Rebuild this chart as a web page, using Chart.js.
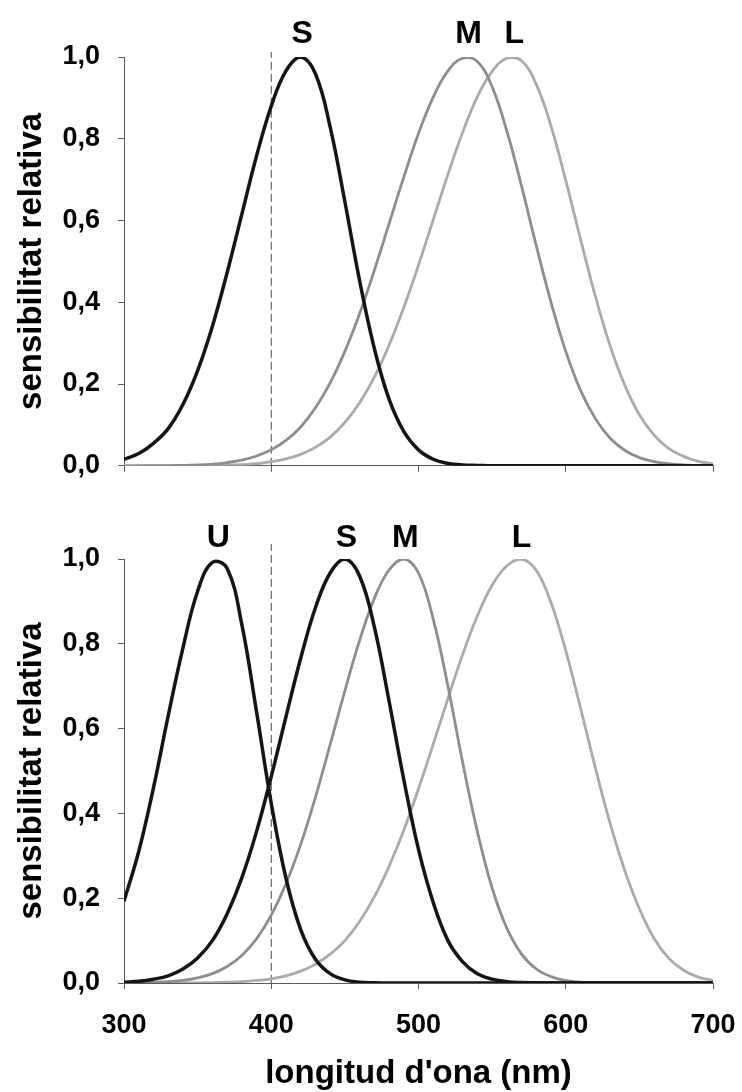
<!DOCTYPE html>
<html>
<head>
<meta charset="utf-8">
<script src="https://cdn.jsdelivr.net/npm/chart.js@4.4.1/dist/chart.umd.min.js"></script>
<style>
  html, body { margin: 0; padding: 0; background: #fff; }
  #wrap { position: relative; width: 742px; height: 1092px; }
  canvas { position: absolute; left: 0; }
  #top { top: 0; }
  #bottom { top: 500px; }
</style>
</head>
<body>
<div id="wrap">
  <canvas id="top" width="742" height="500"></canvas>
  <canvas id="bottom" width="742" height="592"></canvas>
</div>
<script>
const wavelengths = [
  300, 310, 320, 330, 340, 350, 360, 370, 380, 390,
  400, 410, 420, 430, 440, 450, 460, 470, 480, 490,
  500, 510, 520, 530, 540, 550, 560, 570, 580, 590,
  600, 610, 620, 630, 640, 650, 660, 670, 680, 690,
  700
];

// upper panel: S, M, L cones
const topS = [
  0.016, 0.03, 0.055, 0.091, 0.15, 0.233, 0.341, 0.472, 0.615, 0.758,
  0.88, 0.966, 1.00, 0.959, 0.829, 0.646, 0.453, 0.287, 0.163, 0.084,
  0.039, 0.016, 0.006, 0.002, 0.001, 0, 0, 0, 0, 0,
  0, 0, 0, 0, 0, 0, 0, 0, 0, 0,
  0
];
const topM = [
  0, 0, 0.0003, 0.0005, 0.001, 0.002, 0.004, 0.008, 0.014, 0.024,
  0.039, 0.062, 0.095, 0.142, 0.203, 0.28, 0.372, 0.478, 0.592, 0.706,
  0.813, 0.902, 0.966, 0.997, 0.989, 0.927, 0.819, 0.684, 0.538, 0.40,
  0.28, 0.185, 0.116, 0.068, 0.038, 0.02, 0.01, 0.005, 0.002, 0.001,
  0
];
const topL = [
  0, 0, 0, 0, 0.0002, 0.0004, 0.0008, 0.0015, 0.003, 0.005,
  0.01, 0.017, 0.028, 0.045, 0.07, 0.106, 0.154, 0.217, 0.295, 0.387,
  0.491, 0.602, 0.713, 0.816, 0.903, 0.965, 0.997, 0.991, 0.933, 0.831,
  0.698, 0.555, 0.416, 0.295, 0.198, 0.125, 0.075, 0.042, 0.023, 0.011,
  0.005
];
const topNames = ['S', 'M', 'L'];
const topPeaks = [421, 534, 565];

// lower panel: U, S, M, L cones
const botU = [
  0.193, 0.31, 0.46, 0.63, 0.79, 0.924, 0.992, 0.978, 0.846, 0.64,
  0.424, 0.247, 0.126, 0.056, 0.022, 0.0075, 0.002, 0.0006, 0, 0,
  0, 0, 0, 0, 0, 0, 0, 0, 0, 0,
  0, 0, 0, 0, 0, 0, 0, 0, 0, 0,
  0
];
const botS = [
  0.002, 0.004, 0.009, 0.017, 0.033, 0.059, 0.10, 0.163, 0.248, 0.357,
  0.487, 0.628, 0.766, 0.885, 0.967, 1.00, 0.96, 0.84, 0.665, 0.48,
  0.315, 0.19, 0.10, 0.05, 0.022, 0.009, 0.003, 0.001, 0, 0,
  0, 0, 0, 0, 0, 0, 0, 0, 0, 0,
  0
];
const botM = [
  0, 0.001, 0.0015, 0.003, 0.006, 0.012, 0.022, 0.039, 0.065, 0.104,
  0.16, 0.234, 0.327, 0.438, 0.562, 0.689, 0.808, 0.907, 0.974, 1.00,
  0.967, 0.858, 0.70, 0.52, 0.357, 0.224, 0.129, 0.068, 0.033, 0.015,
  0.006, 0.002, 0.001, 0, 0, 0, 0, 0, 0, 0,
  0
];
const botL = [
  0, 0, 0, 0, 0, 0.0004, 0.001, 0.002, 0.003, 0.006,
  0.010, 0.017, 0.028, 0.044, 0.068, 0.10, 0.145, 0.203, 0.275, 0.36,
  0.458, 0.563, 0.671, 0.775, 0.866, 0.938, 0.984, 1.00, 0.973, 0.897,
  0.784, 0.649, 0.509, 0.378, 0.266, 0.175, 0.105, 0.058, 0.03, 0.014,
  0.006
];
const botNames = ['U', 'S', 'M', 'L'];
const botPeaks = [364, 451, 491, 570];

const xTicks = [300, 400, 500, 600, 700];
const yTicks = [0, 0.2, 0.4, 0.6, 0.8, 1.0];
const markerNm = 400;

const black = '#151515';
const midGrey = '#8e8e8e';
const lightGrey = '#ababab';
const axisGrey = '#5a5a5a';
const family = '"Liberation Sans", Arial, sans-serif';

const toPoints = vals => vals.map((v, i) => ({ x: wavelengths[i], y: v }));

// letters above each curve's peak
const peakLetters = {
  id: 'peakLetters',
  afterDraw(chart, args, opts) {
    const { ctx, chartArea, scales } = chart;
    ctx.save();
    ctx.font = 'bold 32px ' + family;
    ctx.fillStyle = '#000';
    ctx.textAlign = 'center';
    ctx.textBaseline = 'alphabetic';
    opts.names.forEach((n, i) => {
      ctx.fillText(n, scales.x.getPixelForValue(opts.peaks[i]), chartArea.top - opts.gap);
    });
    ctx.restore();
  }
};

function drawPanel(id, lines, names, peaks, cfg) {
  const datasets = lines.map(l => ({
    data: toPoints(l.values),
    borderColor: l.color,
    borderWidth: l.width,
    pointRadius: 0,
    tension: 0.4,
    fill: false
  }));
  datasets.push({
    data: [{ x: markerNm, y: 0 }, { x: markerNm, y: cfg.markerTop }],
    borderColor: '#4a4a4a',
    borderWidth: 1,
    borderDash: [8, 4],
    pointRadius: 0,
    clip: false
  });

  return new Chart(document.getElementById(id), {
    type: 'line',
    data: { datasets },
    options: {
      responsive: false,
      animation: false,
      layout: { padding: { top: cfg.top, right: 29, bottom: 0, left: 0 } },
      plugins: {
        legend: { display: false },
        tooltip: { enabled: false },
        peakLetters: { names, peaks, gap: cfg.letterGap }
      },
      scales: {
        x: {
          type: 'linear',
          min: 300,
          max: 700,
          afterBuildTicks: s => { s.ticks = xTicks.map(v => ({ value: v })); },
          afterFit: s => {
            s.height = cfg.xHeight;
            s.paddingLeft = 0;
            s.paddingRight = 0;
          },
          grid: { drawOnChartArea: false, drawTicks: true, tickLength: 6, color: axisGrey },
          border: { color: axisGrey, width: 1 },
          ticks: {
            display: cfg.showX,
            color: '#000',
            padding: 20,
            maxRotation: 0,
            font: { family, size: 27, weight: 'bold' }
          },
          title: {
            display: cfg.showX,
            text: "longitud d'ona (nm)",
            color: '#000',
            padding: { top: 0, bottom: 2 },
            font: { family, size: 33, weight: 'bold', lineHeight: 1 }
          }
        },
        y: {
          min: 0,
          max: 1,
          afterBuildTicks: s => { s.ticks = yTicks.map(v => ({ value: v })); },
          afterFit: s => { s.width = 124; },
          grid: { drawOnChartArea: false, drawTicks: true, tickLength: 6, color: axisGrey },
          border: { color: axisGrey, width: 1 },
          ticks: {
            color: '#000',
            padding: 18,
            font: { family, size: 27, weight: 'bold' },
            callback: v => v.toFixed(1).replace('.', ',')
          },
          title: {
            display: true,
            text: 'sensibilitat relativa',
            color: '#000',
            padding: { top: 15, bottom: 0 },
            font: { family, size: 33, weight: 'bold', lineHeight: 1 }
          }
        }
      }
    },
    plugins: [peakLetters]
  });
}

drawPanel('top', [
  { values: topS, color: black, width: 3.5 },
  { values: topM, color: midGrey, width: 2.8 },
  { values: topL, color: lightGrey, width: 2.8 }
], topNames, topPeaks, { top: 57, xHeight: 19, markerTop: 1.012, letterGap: 14, showX: false });

drawPanel('bottom', [
  { values: botU, color: black, width: 3.5 },
  { values: botS, color: black, width: 3.5 },
  { values: botM, color: midGrey, width: 2.8 },
  { values: botL, color: lightGrey, width: 2.8 }
], botNames, botPeaks, { top: 59, xHeight: 109, markerTop: 1.035, letterGap: 12, showX: true });
</script>
</body>
</html>
